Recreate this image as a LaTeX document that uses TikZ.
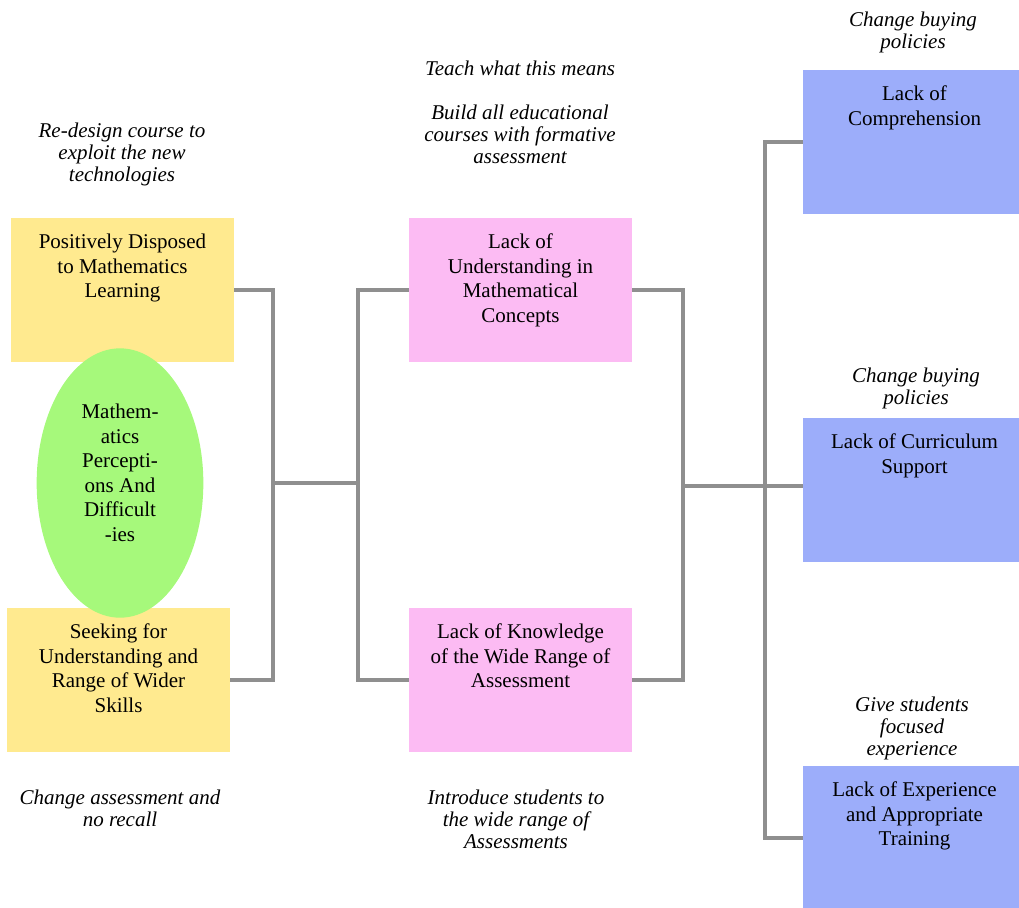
\documentclass[tikz,border=0pt]{standalone}
\usepackage{fontspec}
\setmainfont{Liberation Serif}
\usetikzlibrary{positioning,shapes.geometric}
\definecolor{sun}{HTML}{FFEA8F}
\definecolor{rose}{HTML}{FCBBF3}
\definecolor{sky}{HTML}{9CADFA}
\definecolor{lime}{HTML}{A6F97B}
\definecolor{wire}{HTML}{8F8F8F}

\begin{document}
\begin{tikzpicture}[x=0.75pt,y=-0.75pt,
  box/.style={minimum width=167.25pt,minimum height=108pt,inner sep=0pt,draw=none},
  ybox/.style={box,fill=sun},
  pbox/.style={box,fill=rose},
  bbox/.style={box,fill=sky},
  oval/.style={ellipse,fill=lime,minimum width=125pt,minimum height=202pt,inner sep=0pt},
  boxtxt/.style={align=center,inner sep=0pt,font=\fontsize{15.75}{18.4}\selectfont},
  note/.style={align=center,inner sep=0pt,font=\itshape\fontsize{15.75}{16.5}\selectfont},
  link/.style={draw=wire,line width=3.2pt}]
\useasboundingbox (0,0) rectangle (1019,907);

% ============ LEFT : attitudes ============
\node[ybox] (pd) at (122.5,290) {};
\node[boxtxt,below=12pt of pd.north] (pdt) {Positively Disposed\\to Mathematics\\Learning};
\node[ybox] (sk) at (118.5,680) {};
\node[boxtxt,below=12pt of sk.north] (skt) {Seeking for\\Understanding and\\Range of Wider\\Skills};
\node[oval] (mp) at (120,483) {};
\node[boxtxt] (mpt) at (120,473) {Mathem-\\atics\\Percepti-\\ons And\\Difficult\\-ies};
\node[note] (n1) at (122,154) {Re-design course to\\exploit the new\\technologies};
\node[note] (n2) at (120,808) {Change assessment and\\no recall};

% ============ MIDDLE : understanding ============
\node[pbox] (pk1) at (520.5,290) {};
\node[boxtxt,below=12pt of pk1.north] (pk1t) {Lack of\\Understanding in\\Mathematical\\Concepts};
\node[pbox] (pk2) at (520.5,680) {};
\node[boxtxt,below=12pt of pk2.north] (pk2t) {Lack of Knowledge\\of the Wide Range of\\Assessment};
\node[note] (n3) at (520,112.5) {Teach what this means\\[16.5pt]Build all educational\\courses with formative\\assessment};
\node[note] (n4) at (516,819) {Introduce students to\\the wide range of\\Assessments};

% ============ RIGHT : support ============
\node[bbox] (bl1) at (914.5,142) {};
\node[boxtxt,below=12pt of bl1.north] (bl1t) {Lack of\\Comprehension};
\node[bbox] (bl2) at (914.5,490) {};
\node[boxtxt,below=12pt of bl2.north] (bl2t) {Lack of Curriculum\\Support};
\node[bbox] (bl3) at (914.5,838) {};
\node[boxtxt,below=12pt of bl3.north] (bl3t) {Lack of Experience\\and Appropriate\\Training};
\node[note] (n5) at (913,32) {Change buying\\policies};
\node[note] (n6) at (916,388) {Change buying\\policies};
\node[note] (n7) at (912,728) {Give students\\focused\\experience};

% ============ CONNECTORS ============
\coordinate (j1) at (273,483);
\coordinate (j2) at (358,483);
\coordinate (j3) at (683,486);
\coordinate (j4) at (765,486);
\draw[link] (pd.east) -| (j1) |- (sk.east);
\draw[link] (j1) -- (j2);
\draw[link] (pk1.west) -| (j2) |- (pk2.west);
\draw[link] (pk1.east) -| (j3) |- (pk2.east);
\draw[link] (j3) -- (j3 -| bl2.west);
\draw[link] (bl1.west) -| (j4) |- (bl3.west);

\end{tikzpicture}
\end{document}
